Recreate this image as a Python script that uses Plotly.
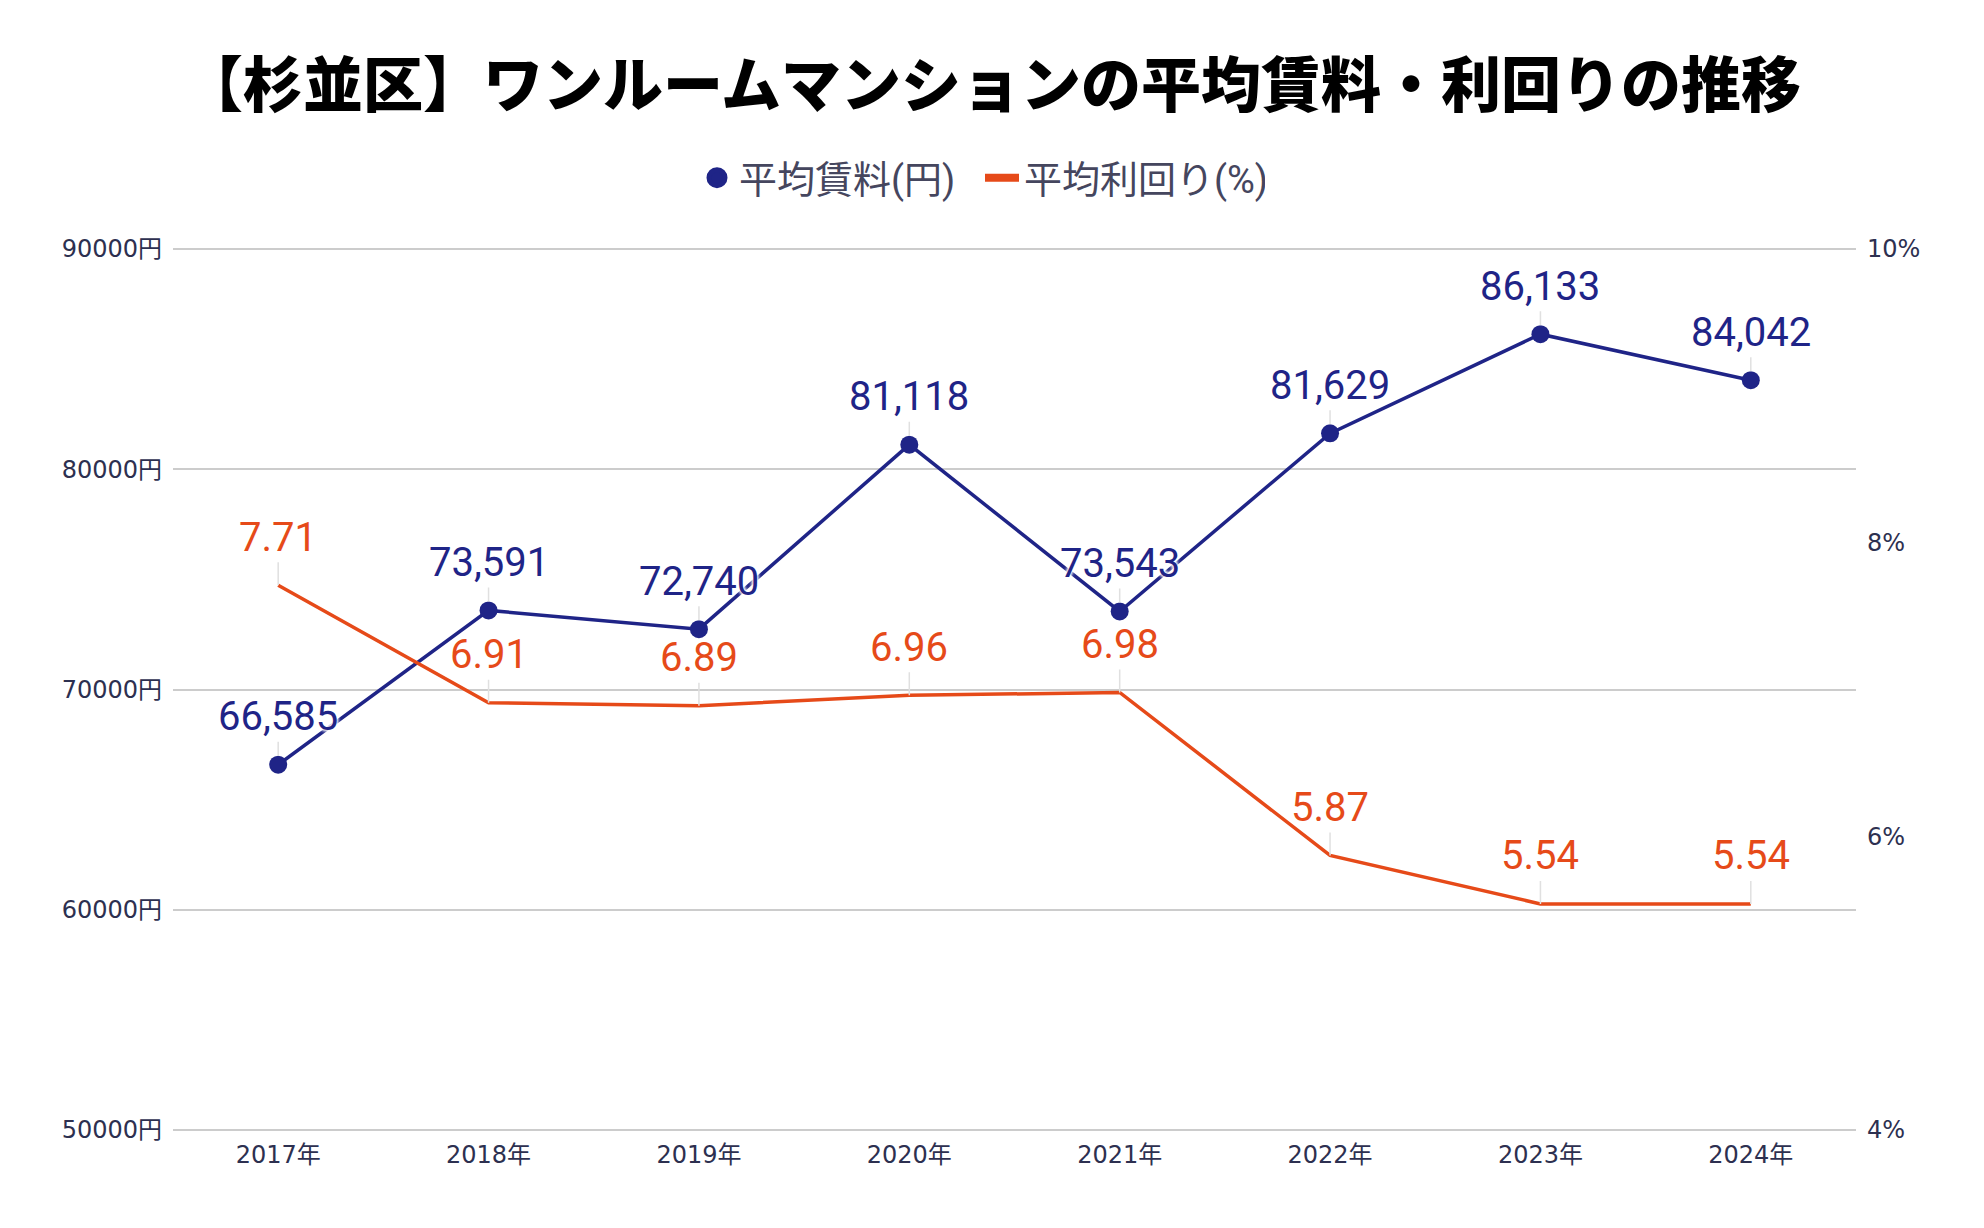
import plotly.graph_objects as go

# ---- data ----
years = ["2017年", "2018年", "2019年", "2020年", "2021年", "2022年", "2023年", "2024年"]
rent = [66585, 73591, 72740, 81118, 73543, 81629, 86133, 84042]
yields = [7.71, 6.91, 6.89, 6.96, 6.98, 5.87, 5.54, 5.54]
rent_ticks = [50000, 60000, 70000, 80000, 90000]
yield_ticks = [4, 6, 8, 10]

rent_labels = [f"{v:,}" for v in rent]
yield_labels = [f"{v:.2f}" for v in yields]
rent_tick_text = [f"{v}円" for v in rent_ticks]
yield_tick_text = [f"{v}%" for v in yield_ticks]

BLUE = "#1f2487"
ORANGE = "#e64a19"
TICK_COLOR = "#2d3050"
HALO = "0px 0px 3px #ffffff, 0px 0px 3px #ffffff, 0px 0px 4px #ffffff, 0px 0px 4px #ffffff"

OFF = 8   # page body margin offset
PAD = 2   # px of padding so edge gridlines are drawn
PLOT_H = 881
rent_pad = (90000 - 50000) / PLOT_H * PAD
yield_pad = (10 - 4) / PLOT_H * PAD

fig = go.Figure()

fig.add_trace(go.Scatter(
    x=years, y=rent, mode="lines+markers", yaxis="y",
    line=dict(color=BLUE, width=3.5), marker=dict(size=18, color=BLUE),
    showlegend=False, hoverinfo="skip"))
fig.add_trace(go.Scatter(
    x=years, y=yields, mode="lines", yaxis="y2",
    line=dict(color=ORANGE, width=3.5),
    showlegend=False, hoverinfo="skip"))

# legend-only entries
fig.add_trace(go.Scatter(
    x=[None], y=[None], mode="markers", name="平均賃料(円)", yaxis="y",
    marker=dict(size=16, color=BLUE, line=dict(color=BLUE, width=5))))
fig.add_trace(go.Scatter(
    x=[None], y=[None], mode="lines", name="平均利回り(%)", yaxis="y2",
    line=dict(color=ORANGE, width=8)))

label_font = "Roboto, Noto Sans CJK JP"
for x, v, t in zip(years, rent, rent_labels):
    fig.add_annotation(
        x=x, y=v, xref="x", yref="y", text=t, showarrow=True, arrowhead=0,
        arrowwidth=1.5, arrowcolor="#e0e0e0", ax=0, ay=-48, standoff=9,
        font=dict(family=label_font, size=40, color=BLUE, shadow=HALO))
for x, v, t in zip(years, yields, yield_labels):
    fig.add_annotation(
        x=x, y=v, xref="x", yref="y2", text=t, showarrow=True, arrowhead=0,
        arrowwidth=1.5, arrowcolor="#e0e0e0", ax=0, ay=-48, standoff=0,
        font=dict(family=label_font, size=40, color=ORANGE, shadow=HALO))

tick_font = dict(family="DejaVu Sans, Noto Sans CJK JP", size=24, color=TICK_COLOR)

fig.update_layout(
    width=1984, height=1228,
    paper_bgcolor="white", plot_bgcolor="white",
    margin=dict(l=173 - OFF, r=128 + OFF, t=249 - OFF - PAD, b=98 + OFF - PAD),
    title=dict(
        text="【杉並区】ワンルームマンションの平均賃料・利回りの推移",
        x=(992 - OFF) / 1984, xref="container", xanchor="center",
        y=1 - (86 - OFF) / 1228, yref="container", yanchor="middle",
        font=dict(family="Noto Sans CJK JP", size=60, color="#000000", weight=900)),
    legend=dict(
        orientation="h", xref="container", x=(695 - OFF) / 1984, xanchor="left",
        yref="container", y=1 - (178 - OFF) / 1228, yanchor="middle",
        entrywidth=236, entrywidthmode="pixels", itemwidth=34,
        font=dict(family="Roboto, Noto Sans CJK JP", size=38, color="#45465e"),
        bgcolor="rgba(0,0,0,0)"),
    xaxis=dict(
        type="category", range=[-0.5, 7.5], showgrid=False, zeroline=False,
        showline=False, ticks="", tickfont=tick_font, ticklabelstandoff=6),
    yaxis=dict(
        range=[50000 - rent_pad, 90000 + rent_pad], tickvals=rent_ticks, ticktext=rent_tick_text,
        showgrid=True, gridcolor="#cccccc", gridwidth=2, zeroline=False,
        showline=False, ticks="", tickfont=tick_font, ticklabelstandoff=10),
    yaxis2=dict(
        range=[4 - yield_pad, 10 + yield_pad], tickvals=yield_ticks, ticktext=yield_tick_text,
        overlaying="y", side="right", showgrid=False, zeroline=False,
        showline=False, ticks="", tickfont=tick_font, ticklabelstandoff=10),
)

fig.write_html("out.html")
